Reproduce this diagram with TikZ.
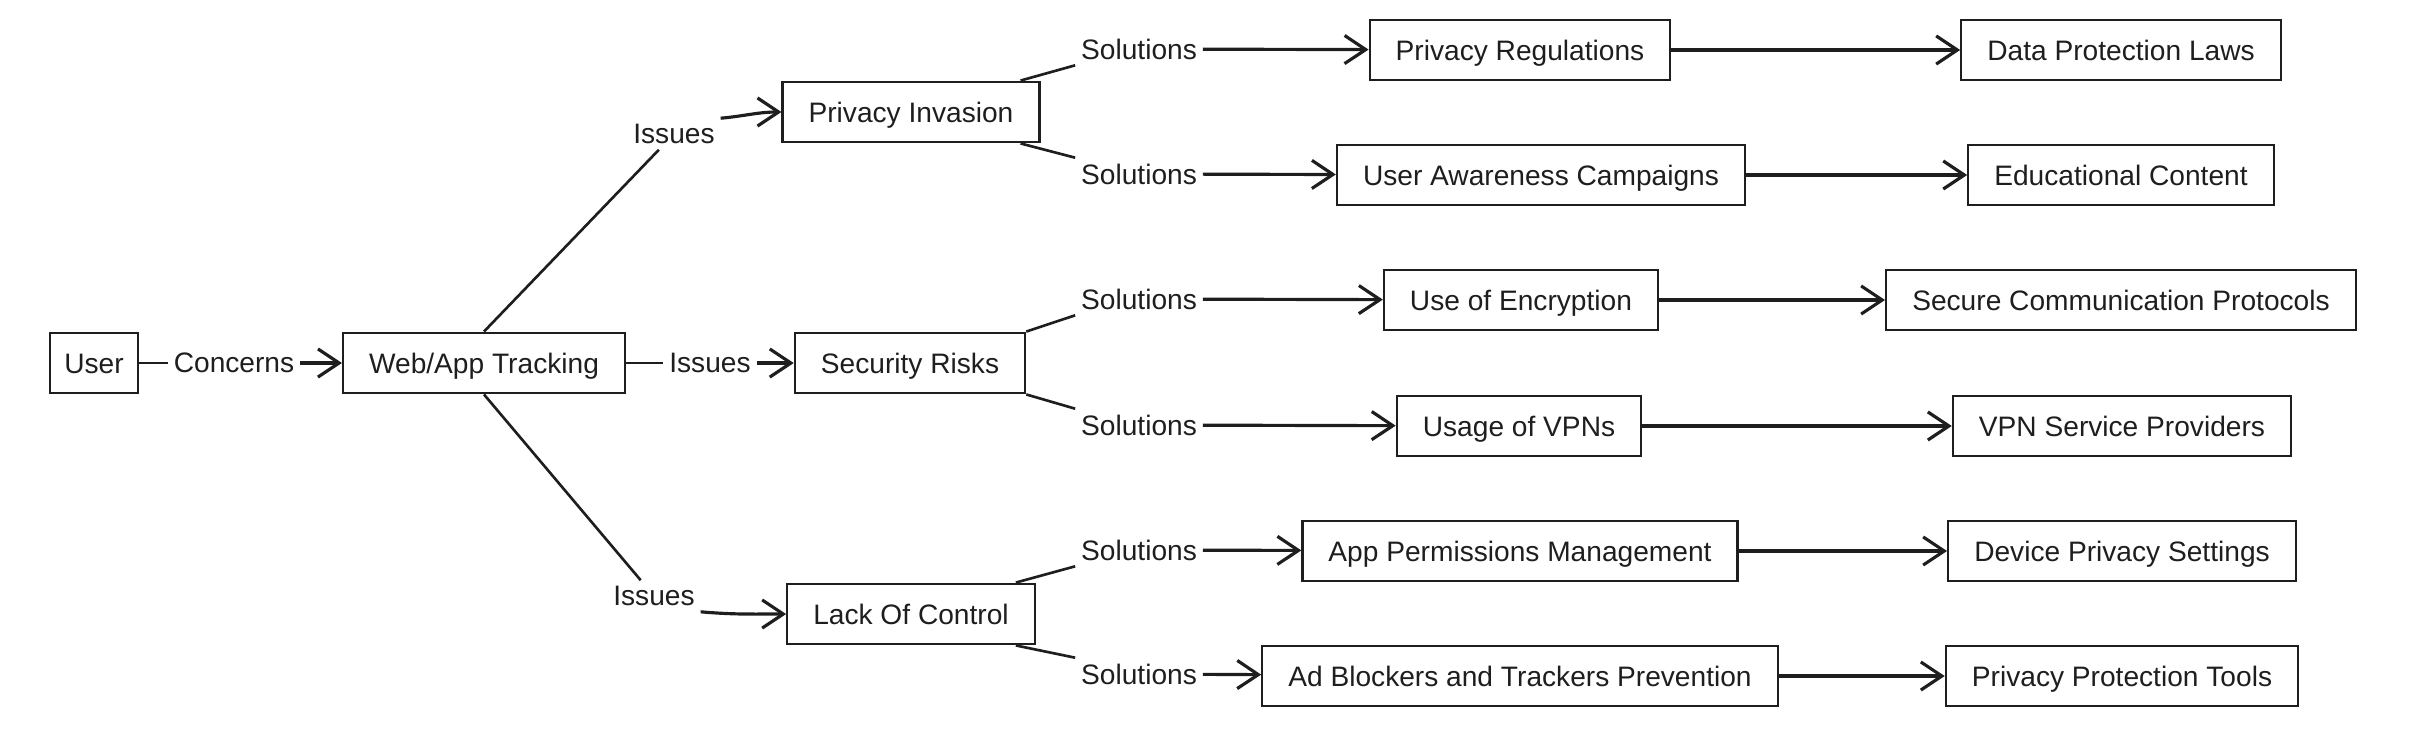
\documentclass[tikz,border=0pt]{standalone}
\usepackage{fontspec}
\setmainfont{Liberation Sans}
\usepackage{xcolor}
\usepackage{tikz}
\usetikzlibrary{arrows.meta,positioning}
\definecolor{ink}{HTML}{1E1E1E}

\begin{document}
\begin{tikzpicture}[x=0.01cm, y=-0.01cm,
  box/.style={rectangle, draw=ink, line width=0.65pt, minimum height=0.58cm,
              inner xsep=0.26cm, text height=1.55ex, text depth=0.45ex,
              font=\fontsize{8}{9.6}\selectfont, text=ink},
  lbl/.style={inner sep=1.5pt, font=\fontsize{8}{9.6}\selectfont, text=ink},
  link/.style={line width=0.75pt, ink},
  arrow/.style={link, line width=0.9pt, -{Straight Barb[length=6pt,width=8pt]}}
]
\useasboundingbox (0,0) rectangle (2414,742);
\node[box, inner xsep=0.14cm] (U) at (94,363) {User};
\node[box] (W) at (484,363)  {Web/App Tracking};
\node[box] (P) at (911,112)  {Privacy Invasion};
\node[box] (S) at (910,363)  {Security Risks};
\node[box] (L) at (911,614)  {Lack Of Control};
\node[lbl] (C)  at (234,363) {Concerns};
\node[lbl] (I1) at (674,134) {Issues};
\node[lbl] (I2) at (710,363) {Issues};
\node[lbl] (I3) at (654,596) {Issues};
\node[lbl] (O1) at (1139,49)  {Solutions};
\node[lbl] (O2) at (1139,174) {Solutions};
\node[lbl] (O3) at (1139,299) {Solutions};
\node[lbl] (O4) at (1139,425) {Solutions};
\node[lbl] (O5) at (1139,550) {Solutions};
\node[lbl] (O6) at (1139,674) {Solutions};
\node[box] (A1) at (1520,50)  {Privacy Regulations};
\node[box] (A2) at (1541,175) {User Awareness Campaigns};
\node[box] (A3) at (1521,300) {Use of Encryption};
\node[box] (A4) at (1519,426) {Usage of VPNs};
\node[box] (A5) at (1520,551) {App Permissions Management};
\node[box] (A6) at (1520,676) {Ad Blockers and Trackers Prevention};
\node[box] (B1) at (2121,50)  {Data Protection Laws};
\node[box] (B2) at (2121,175) {Educational Content};
\node[box] (B3) at (2121,300) {Secure Communication Protocols};
\node[box] (B4) at (2122,426) {VPN Service Providers};
\node[box] (B5) at (2122,551) {Device Privacy Settings};
\node[box] (B6) at (2122,676) {Privacy Protection Tools};
\draw[link](U)--(C); \draw[arrow](C)--(W);
\draw[link](W.north)--(I1); \draw[arrow](I1.north east) to[out=5,in=180] (P.west);
\draw[link](W)--(I2); \draw[arrow](I2)--(S);
\draw[link](W.south)--(I3); \draw[arrow](I3.south east) to[out=-5,in=180] (L.west);
\draw[link]([xshift=-2mm]P.north east)--(O1.south west); \draw[link]([xshift=-2mm]P.south east)--(O2.north west);
\draw[link](S.north east)--(O3.south west); \draw[link](S.south east)--(O4.north west);
\draw[link]([xshift=-2mm]L.north east)--(O5.south west); \draw[link]([xshift=-2mm]L.south east)--(O6.north west);
\draw[arrow](O1)--(A1); \draw[arrow](O2)--(A2);
\draw[arrow](O3)--(A3); \draw[arrow](O4)--(A4);
\draw[arrow](O5)--(A5); \draw[arrow](O6)--(A6);
\draw[arrow](A1)--(B1); \draw[arrow](A2)--(B2);
\draw[arrow](A3)--(B3); \draw[arrow](A4)--(B4);
\draw[arrow](A5)--(B5); \draw[arrow](A6)--(B6);
\end{tikzpicture}
\end{document}
